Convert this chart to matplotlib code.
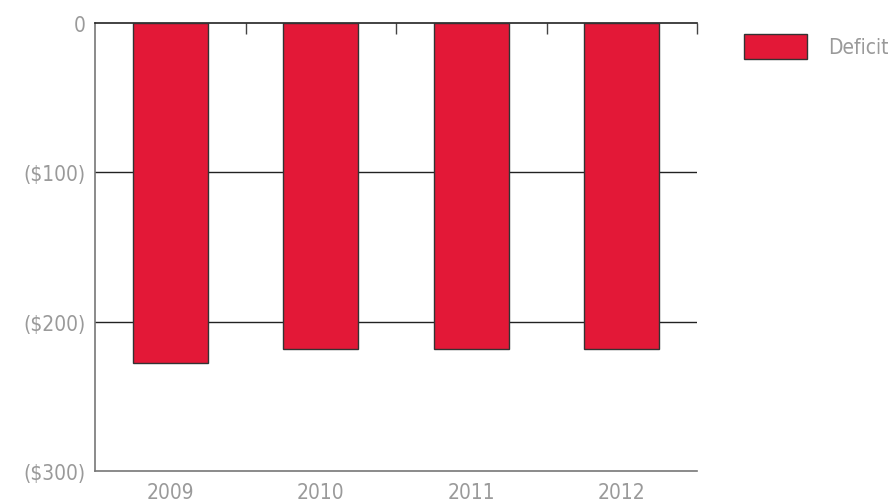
import numpy as np
import matplotlib.pyplot as plt

years = ['2009', '2010', '2011', '2012']
deficit = [-228, -218, -218, -218]
yticks = [0, -100, -200, -300]
ylabels = ['0', '($100)', '($200)', '($300)']

plt.rcParams['font.family'] = ['DejaVu Sans']
plt.rcParams['font.stretch'] = 'condensed'

red = '#e31837'
gray = '#9a9a9a'

fig = plt.figure(figsize=(8.96, 5.02), dpi=100)
ax = fig.add_axes([95 / 896, 1 - 472 / 502, 602 / 896, 448 / 502])

x = np.arange(len(years))
ax.bar(x, deficit, width=0.5, color=red, edgecolor='#333333', linewidth=1,
       label='Deficit', zorder=3)

ax.set_xlim(-0.5, 3.5)
ax.set_ylim(-300, 0)
ax.set_yticks(yticks)
ax.set_yticklabels(ylabels)
ax.set_xticks(x)
ax.set_xticklabels(years)
ax.set_xticks(x + 0.5, minor=True)

for y in [-100, -200]:
    ax.axhline(y, color='#222222', linewidth=1, zorder=1)

ax.spines['right'].set_visible(False)
ax.spines['top'].set_color('#222222')
ax.spines['top'].set_linewidth(1.2)
ax.spines['left'].set_color('#777777')
ax.spines['bottom'].set_color('#777777')
ax.spines['left'].set_linewidth(1.2)
ax.spines['bottom'].set_linewidth(1.2)

ax.tick_params(axis='x', which='major', length=0, pad=8, labelsize=15, labelcolor=gray)
ax.tick_params(axis='x', which='minor', top=True, bottom=False, direction='in',
               length=8, color='#444444', width=1)
ax.tick_params(axis='y', length=0, pad=7, labelsize=15, labelcolor=gray)

leg = ax.legend(loc='upper left', bbox_to_anchor=(1.065, 0.993), frameon=False,
                fontsize=15, handlelength=3.0, handleheight=1.4, handletextpad=1.0,
                labelcolor=gray, borderaxespad=0)

fig.savefig('out.png', dpi=100)
